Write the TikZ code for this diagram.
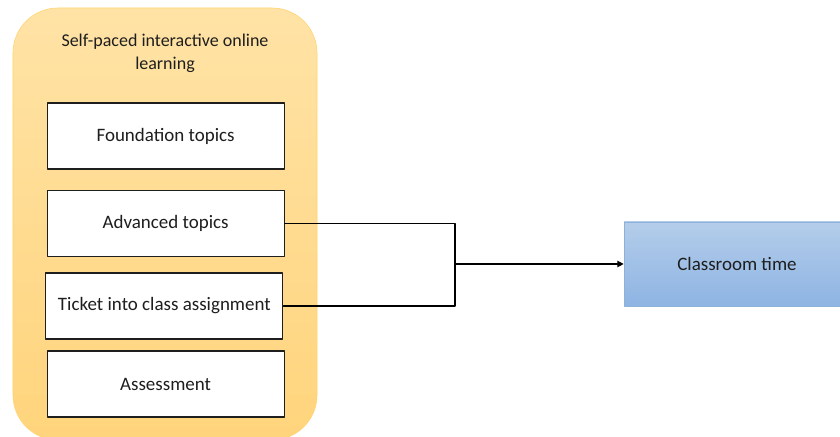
\documentclass[tikz,border=0pt]{standalone}
\usepackage{fontspec}
\setmainfont{Carlito}
\usepackage{xcolor}
\usepackage{tikz}
\usetikzlibrary{arrows.meta,positioning}
\definecolor{olTop}{HTML}{FFE3A6}
\definecolor{olBottom}{HTML}{FFD47C}
\definecolor{olLine}{HTML}{FFD36E}
\definecolor{crTop}{HTML}{B4CDEA}
\definecolor{crBottom}{HTML}{8EB4E3}
\definecolor{crLine}{HTML}{8FB0D8}
\definecolor{flInk}{HTML}{1E1E1E}
\tikzset{
  fl diagram/.style={font=\fontsize{13.5}{16}\selectfont, text=flInk,
    line cap=round, line join=round},
  fl group/.style={draw=olLine, top color=olTop, bottom color=olBottom,
    line width=0.4pt, rounded corners=32pt, minimum width=7.6cm,
    minimum height=10.8cm},
  fl title/.style={font=\fontsize{12.8}{16.5}\selectfont, align=center},
  fl topic/.style={draw=flInk, fill=white, line width=0.8pt,
    minimum width=5.925cm, minimum height=1.65cm, align=center, inner sep=2pt},
  fl target/.style={draw=crLine, top color=crTop, bottom color=crBottom,
    line width=0.4pt, minimum width=5.65cm, minimum height=2.1cm},
  fl link/.style={draw=black, line width=0.8pt},
  fl arrow/.style={fl link, -{Triangle[length=1.6mm,width=1.6mm]}}
}
\begin{document}
\begin{tikzpicture}[fl diagram]
\useasboundingbox (0,0) rectangle (21,10.925);
\node[fl group] (online) at (4.125,5.325) {};
\node[fl title] (title) at (4.125,9.6) {Self-paced interactive online\\learning};
\node[fl topic] (found) at (4.14,7.525) {Foundation topics};
\node[fl topic] (adv) at (4.14,5.3375) {Advanced topics};
\node[fl topic] (ticket) at (4.11,3.275) {Ticket into class assignment};
\node[fl topic] (assess) at (4.14,1.325) {Assessment};
\node[fl target] (class) at (18.425,4.325) {Classroom time};
% bracket joining the two topics
\coordinate (join) at (11.375,4.325);
\draw[fl link] (adv.east) -| (join) |- (ticket.east);
\draw[fl arrow] (join) -- (class.west);
\end{tikzpicture}
\end{document}
